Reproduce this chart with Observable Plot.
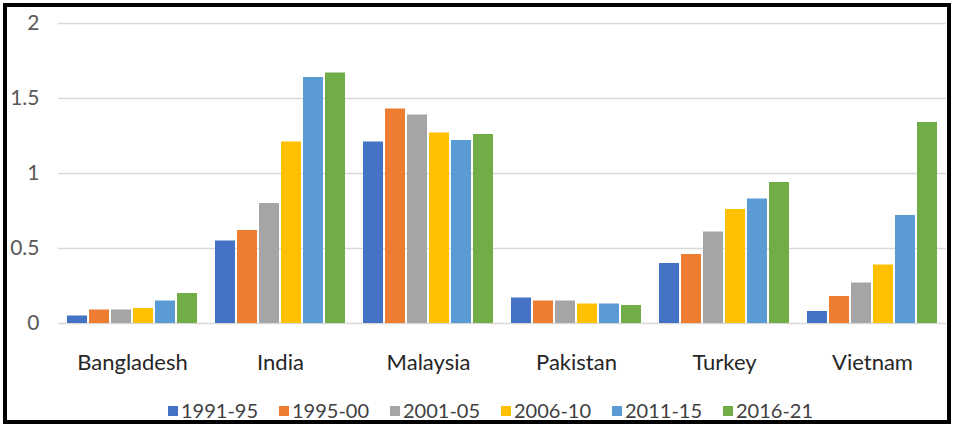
<!DOCTYPE html>
<html>
<head>
<meta charset="utf-8">
<script src="https://cdn.jsdelivr.net/npm/d3@7"></script>
<script src="https://cdn.jsdelivr.net/npm/@observablehq/plot@0.6"></script>
<style>
  html, body { margin: 0; padding: 0; background: #fff; }
  body { width: 953px; height: 425px; position: relative; overflow: hidden; font-family: Lato, "Open Sans", sans-serif; }
  #frame { position: absolute; left: 3px; top: 3px; width: 940px; height: 413px; border: 4px solid #000; overflow: hidden; background: #fff; }
  #chart { position: absolute; left: 0; top: 0; }
  #legend { position: absolute; left: 161px; top: 390px; display: flex; font-size: 20px; color: #404040; line-height: 26px; }
  .item { display: flex; align-items: center; width: 111px; }
  .sw { width: 10px; height: 10px; margin-right: 3px; margin-top: 2px; }
</style>
</head>
<body>
<div id="frame">
  <div id="chart"></div>
  <div id="legend"></div>
</div>
<script>
const countries = ["Bangladesh", "India", "Malaysia", "Pakistan", "Turkey", "Vietnam"];
const periods = ["1991-95", "1995-00", "2001-05", "2006-10", "2011-15", "2016-21"];
const bangladesh = [0.05, 0.09, 0.09, 0.10, 0.15, 0.20];
const india = [0.55, 0.62, 0.80, 1.21, 1.64, 1.67];
const malaysia = [1.21, 1.43, 1.39, 1.27, 1.22, 1.26];
const pakistan = [0.17, 0.15, 0.15, 0.13, 0.13, 0.12];
const turkey = [0.40, 0.46, 0.61, 0.76, 0.83, 0.94];
const vietnam = [0.08, 0.18, 0.27, 0.39, 0.72, 1.34];
const yTicks = [0, 0.5, 1, 1.5, 2];
const colors = ["#4472C4", "#ED7D31", "#A5A5A5", "#FFC000", "#5B9BD5", "#70AD47"];

const series = [bangladesh, india, malaysia, pakistan, turkey, vietnam];
const data = [];
countries.forEach((c, i) => periods.forEach((p, j) => data.push({country: c, period: p, value: series[i][j]})));

const chart = Plot.plot({
  width: 940,
  height: 385,
  marginLeft: 50,
  marginRight: 0,
  marginTop: 16,
  marginBottom: 69,
  style: {fontFamily: "Lato, 'Open Sans', sans-serif", background: "transparent", color: "#262626"},
  fx: {domain: countries, padding: 0, label: null},
  x: {domain: periods, paddingInner: 0.1, paddingOuter: 0.35, axis: null},
  y: {domain: [0, 2], label: null},
  color: {domain: periods, range: colors},
  marks: [
    Plot.ruleY(yTicks, {stroke: "#d9d9d9", strokeWidth: 1.5}),
    Plot.barY(data, {fx: "country", x: "period", y: "value", fill: "period"}),
    Plot.axisY({ticks: yTicks, tickSize: 0, tickPadding: 19, fontSize: 21, fill: "#595959", tickFormat: d => String(d), label: null}),
    Plot.axisFx({anchor: "bottom", tickSize: 0, tickPadding: 31, fontSize: 22, fill: "#262626", label: null})
  ]
});
document.getElementById("chart").appendChild(chart);

const legend = document.getElementById("legend");
periods.forEach((p, i) => {
  const item = document.createElement("div");
  item.className = "item";
  const sw = document.createElement("span");
  sw.className = "sw";
  sw.style.background = colors[i];
  const t = document.createElement("span");
  t.textContent = p;
  item.appendChild(sw);
  item.appendChild(t);
  legend.appendChild(item);
});
</script>
</body>
</html>
